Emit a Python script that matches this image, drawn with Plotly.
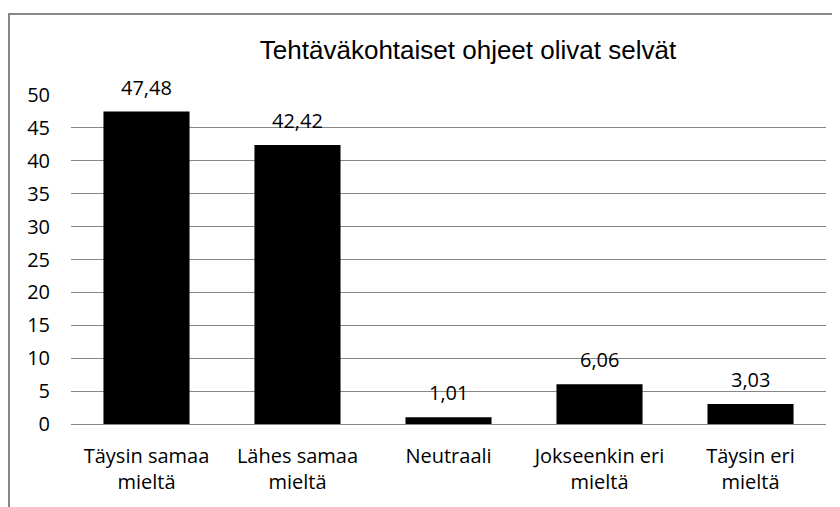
import plotly.graph_objects as go

categories = ["Täysin samaa<br>mieltä", "Lähes samaa<br>mieltä", "Neutraali",
              "Jokseenkin eri<br>mieltä", "Täysin eri<br>mieltä"]
values = [47.48, 42.42, 1.01, 6.06, 3.03]
y_ticks = [0, 5, 10, 15, 20, 25, 30, 35, 40, 45, 50]
title_text = "Tehtäväkohtaiset ohjeet olivat selvät"

# page body has an 8px offset; compensate
OFF = 8
W, H = 840, 507
ml, mr, mt, mb = 71 - OFF, 22, 95 - OFF, 91
pw, ph = W - ml - mr, H - mt - mb

fig = go.Figure()
fig.add_trace(go.Bar(x=categories, y=values, marker=dict(color="black", line=dict(width=0)),
                     hoverinfo="skip"))

for c, v in zip(categories, values):
    fig.add_annotation(x=c, y=v, text=f"{v:.2f}".replace(".", ","), showarrow=False,
                       yanchor="bottom", yshift=9,
                       font=dict(family="Open Sans", size=20, color="black"))

fig.add_shape(type="rect", xref="paper", yref="paper",
              x0=(9 - OFF - ml) / pw, x1=(860 - ml) / pw,
              y0=(H - mb - 540) / ph, y1=(H - mb - (14 - OFF)) / ph,
              line=dict(color="#878787", width=2), layer="below")

fig.update_layout(
    width=W, height=H,
    margin=dict(l=ml, r=mr, t=mt, b=mb),
    paper_bgcolor="white", plot_bgcolor="white",
    bargap=0.43, showlegend=False,
    title=dict(text=title_text, x=(468 - OFF) / W, xanchor="center",
               y=1 - (50 - OFF) / H, yanchor="middle",
               font=dict(family="Liberation Sans", size=26, color="black")),
    xaxis=dict(showgrid=False, showline=False, ticks="", ticklabelstandoff=18,
               tickfont=dict(family="Open Sans", size=20, color="black")),
    yaxis=dict(range=[0, 50], tickvals=y_ticks, showgrid=True, gridcolor="#878787",
               gridwidth=1, zeroline=True, zerolinecolor="#878787", zerolinewidth=1,
               showline=False, ticks="", ticklabelstandoff=20,
               tickfont=dict(family="Open Sans", size=20, color="black")),
)

fig.write_html("out.html")
